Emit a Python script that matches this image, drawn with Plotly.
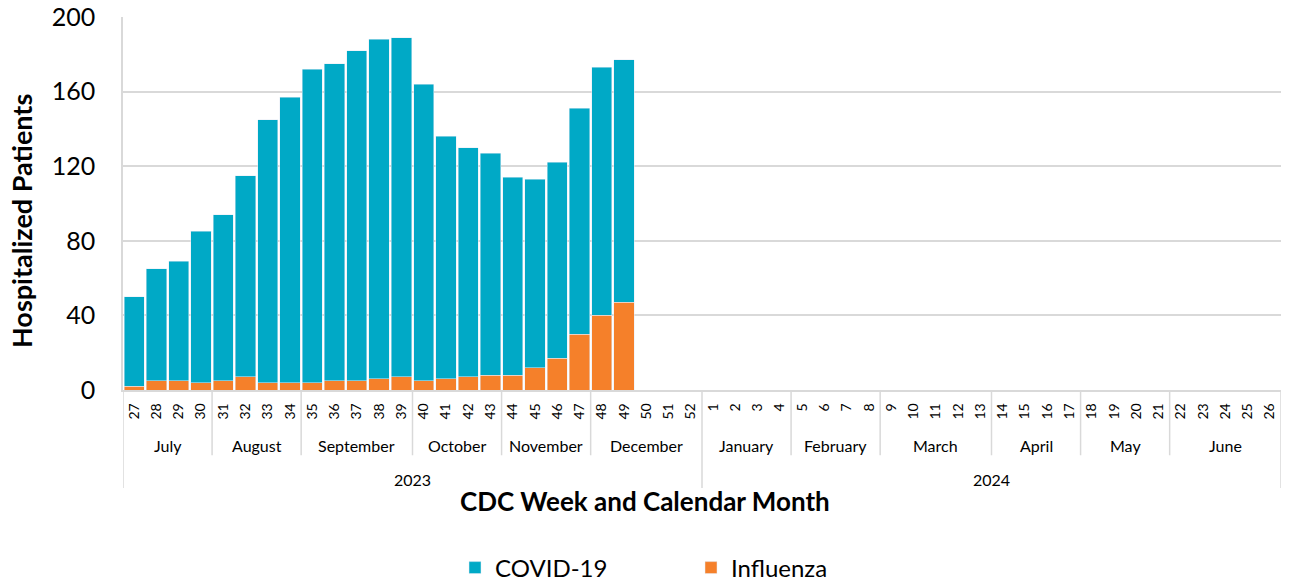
import plotly.graph_objects as go

weeks = [str(w) for w in range(27, 53)] + [str(w) for w in range(1, 27)]

# values (weeks 27..49 of 2023 have data)
total = [50, 65, 69, 85, 94, 115, 145, 157, 172, 175, 182, 188, 189,
         164, 136, 130, 127, 114, 113, 122, 151, 173, 177]
influenza = [2, 5, 5, 4, 5, 7, 4, 4, 4, 5, 5, 6, 7,
             5, 6, 7, 8, 8, 12, 17, 30, 40, 47]
covid = [t - f for t, f in zip(total, influenza)]

months = ["July", "August", "September", "October", "November", "December",
          "January", "February", "March", "April", "May", "June"]
weeks_per_month = [4, 4, 5, 4, 4, 5, 4, 4, 5, 4, 4, 5]
years = ["2023", "2024"]
months_per_year = [6, 6]

COVID_COL = "#00A9C6"
FLU_COL = "#F5802A"
GRID = "#D9D9D9"
FONT = "Lato"

W, H = 1290, 584

fig = go.Figure()
fig.add_trace(go.Bar(x=weeks[:len(influenza)], y=influenza, name="Influenza",
                     marker_color=FLU_COL, legendrank=2))
fig.add_trace(go.Bar(x=weeks[:len(covid)], y=covid, name="COVID-19",
                     marker_color=COVID_COL, legendrank=1))

shapes = []
annotations = []

# month labels + separators
start = 0
bounds = [-0.5]
for m, n in zip(months, weeks_per_month):
    mid = start + (n - 1) / 2
    annotations.append(dict(x=mid, y=-0.150, xref="x", yref="paper", text=m,
                            yanchor="middle", showarrow=False,
                            font=dict(size=16, color="#000")))
    start += n
    bounds.append(start - 0.5)

year_bounds = [-0.5]
s = 0
for y, n in zip(years, months_per_year):
    nw = sum(weeks_per_month[s:s + n])
    first = sum(weeks_per_month[:s])
    annotations.append(dict(x=first + (nw - 1) / 2, y=-0.239, xref="x", yref="paper",
                            text=y, yanchor="middle", showarrow=False,
                            font=dict(size=16, color="#000")))
    s += n
    year_bounds.append(first + nw - 0.5)

for b in bounds:
    if b in year_bounds:
        continue
    shapes.append(dict(type="line", xref="x", yref="paper", x0=b, x1=b, y0=0, y1=-0.175,
                       line=dict(color=GRID, width=1.5)))
for b in year_bounds:
    shapes.append(dict(type="line", xref="x", yref="paper", x0=b, x1=b, y0=0, y1=-0.263,
                       line=dict(color=GRID, width=1.5)))

# axis titles
annotations.append(dict(x=(645 - 123) / 1158, y=-0.2976, xref="paper", yref="paper",
                        text="<b>CDC Week and Calendar Month</b>", showarrow=False,
                        xanchor="center", yanchor="middle",
                        font=dict(size=26, color="#000")))
annotations.append(dict(x=-0.0881, y=0.453, xref="paper", yref="paper",
                        text="<b>Hospitalized Patients</b>", showarrow=False, textangle=-90,
                        xanchor="center", yanchor="middle",
                        font=dict(size=27, color="#000")))

fig.update_layout(
    width=W, height=H,
    margin=dict(l=123, r=9, t=17, b=194),
    paper_bgcolor="white", plot_bgcolor="white",
    barmode="stack", bargap=0.09,
    font=dict(family=FONT, color="#000"),
    shapes=shapes, annotations=annotations,
    legend=dict(orientation="h", xref="container", yref="container",
                x=455 / W, xanchor="left", y=1 - 568 / H, yanchor="middle",
                traceorder="normal",
                entrywidth=191, entrywidthmode="pixels",
                font=dict(size=24)),
)
fig.update_xaxes(type="category", categoryorder="array", categoryarray=weeks,
                 range=[-0.5, len(weeks) - 0.5], tickangle=-90, automargin=False,
                 tickfont=dict(size=14), ticklabelstandoff=6,
                 showline=True, linecolor=GRID, linewidth=1.5,
                 showgrid=False, ticks="")
fig.update_yaxes(range=[0, 200], dtick=40, gridcolor=GRID, gridwidth=1.5, automargin=False,
                 showline=True, linecolor=GRID, linewidth=1.5, zeroline=False,
                 tickfont=dict(size=25), ticklabelstandoff=21)

# drop the page's default body margin so the figure sits at the window origin
fig.write_html("out.html", config={"displayModeBar": False},
               post_script="document.body.style.margin='0';")
